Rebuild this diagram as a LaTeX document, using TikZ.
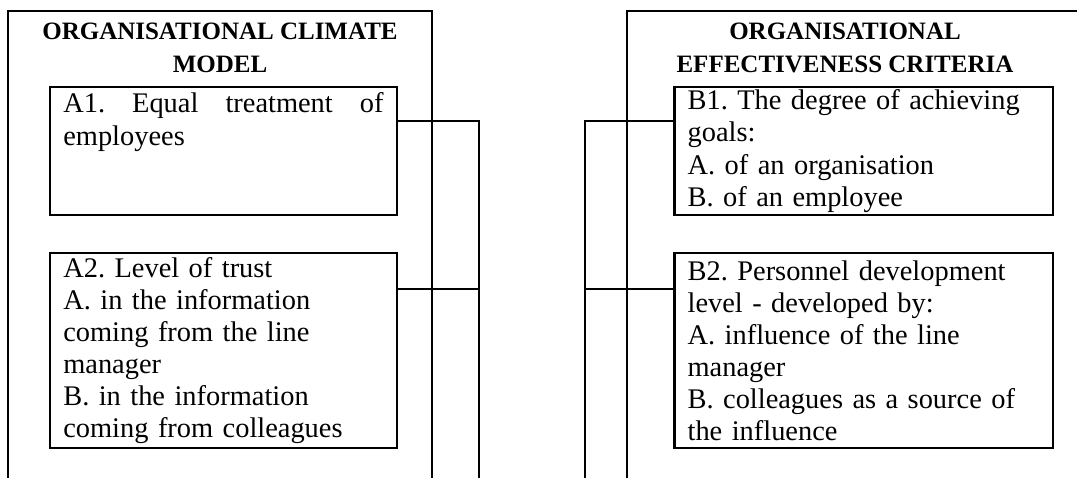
\documentclass[tikz,border=0pt]{standalone}
\usepackage{fontspec}
\setmainfont{Liberation Serif}
\frenchspacing

\begin{document}
\begin{tikzpicture}[x=0.44pt, y=-0.44pt, line width=1pt,
    itembox/.style={draw, anchor=north west, align=left, inner xsep=5.8pt, inner ysep=0pt,
      font=\fontsize{12.5}{14.1}\selectfont},
    climbox/.style={itembox, text width=140.9pt},
    critbox/.style={itembox, text width=155pt},
    toprow/.style={minimum height=56.5pt},
    lowrow/.style={minimum height=85.8pt},
    heading/.style={align=center, font=\fontsize{11}{14.5}\selectfont\bfseries}]
        \useasboundingbox (0, 0) rectangle (1077, 478);
        % frames, open at the bottom
        \draw (8.3, 478) |- (431.7, 11) -- (431.7, 478);
        \draw (626.7, 478) |- (1085, 11);
        \node[heading] (climate) at (220, 47.5) {ORGANISATIONAL CLIMATE\\MODEL};
        \node[heading] (criteria) at (845, 47.5) {ORGANISATIONAL\\EFFECTIVENESS CRITERIA};
        % boxes
        \node[climbox, toprow] (A1) at (49, 85.7) {A1.\hfill Equal\hfill treatment\hfill of\\employees\\~\\~};
        \node[climbox, lowrow] (A2) at (49, 252) {A2. Level of trust\\A. in the information\\coming from the line\\manager\\B. in the information\\coming from colleagues};
        \node[critbox, toprow] (B1) at (673.3, 85.7) {B1. The degree of achieving\\goals:\\A. of an organisation\\B. of an employee};
        \node[critbox, lowrow] (B2) at (673.3, 252) {B2. Personnel development\\level - developed by:\\A. influence of the line\\manager\\B. colleagues as a source of\\the influence};
        % connectors
        \coordinate (busA) at (479, 478);
        \coordinate (busB) at (585, 478);
        \coordinate (a1j) at ([yshift=-15.5pt]A1.north east);
        \coordinate (a2j) at ([yshift=-16.3pt]A2.north east);
        \coordinate (b1j) at ([yshift=-15.5pt]B1.north west);
        \coordinate (b2j) at ([yshift=-16.3pt]B2.north west);
        \draw (a1j) -| (busA);
        \draw (a2j) -- (a2j -| busA);
        \draw (b1j) -| (busB);
        \draw (b2j) -- (b2j -| busB);
      \end{tikzpicture}
\end{document}
